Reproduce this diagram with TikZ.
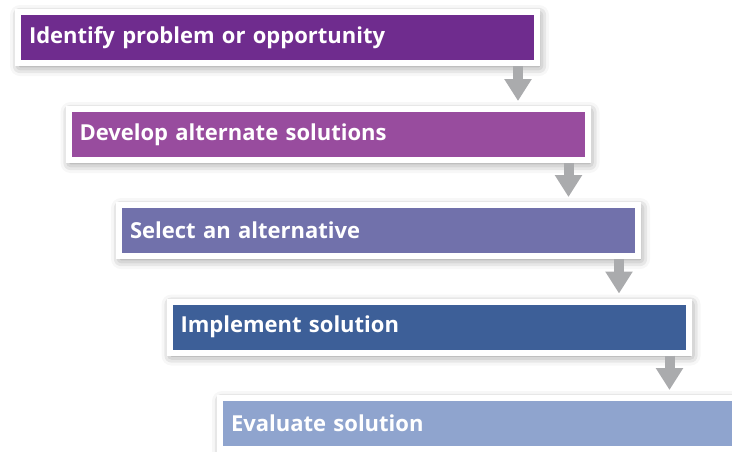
\documentclass[tikz,border=0pt]{standalone}
\usepackage{fontspec}
\setmainfont{Open Sans}
\usetikzlibrary{arrows.meta,shadows.blur,calc}
\definecolor{cA}{HTML}{6F2C8E}
\definecolor{cB}{HTML}{984C9E}
\definecolor{cC}{HTML}{7171AB}
\definecolor{cD}{HTML}{3D5F98}
\definecolor{cE}{HTML}{8FA4CE}
\definecolor{arrowgray}{HTML}{AAABAD}
\tikzset{
  stepbox/.style={draw=white, line width=6pt, fill=#1,
    minimum width=519pt, minimum height=51pt,
    text width=497pt, align=left, inner xsep=11pt,
    text=white, font=\fontsize{22}{26}\selectfont\bfseries,
    blur shadow={shadow xshift=2pt, shadow yshift=-3pt, shadow blur radius=10pt, shadow opacity=50}},
  flowarrow/.style={draw=arrowgray, line width=10pt,
    -{Triangle[width=26pt,length=22pt]}, shorten >=5pt}
}
\begin{document}
\begin{tikzpicture}[x=1pt,y=-1pt]
\useasboundingbox (0,0) rectangle (732,451);
\node[stepbox=cA] (b1) at (277.5,37.5) {Identify problem or opportunity};
\node[stepbox=cB] (b2) at (328,134.5) {Develop alternate solutions};
\node[stepbox=cC] (b3) at (378.5,230.5) {Select an alternative};
\node[stepbox=cD] (b4) at (429,327) {Implement solution};
\node[stepbox=cE] (b5) at (479.5,423.5) {Evaluate solution};
\foreach \a/\b in {b1/b2,b2/b3,b3/b4,b4/b5}{
  \coordinate (s\a) at ($(\a.south east)+(-22,0)$);
  \draw[flowarrow] (s\a) -- (s\a |- \b.north);
}
\end{tikzpicture}
\end{document}
